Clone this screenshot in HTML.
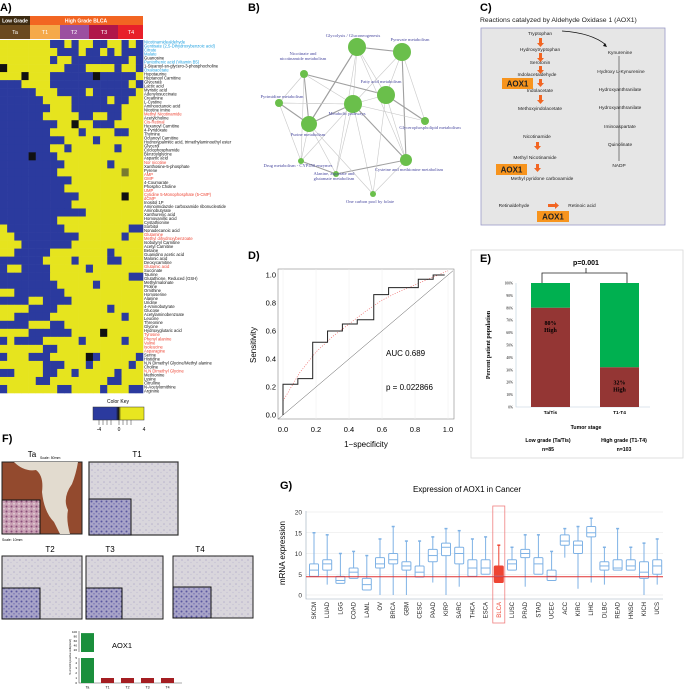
<!DOCTYPE html>
<html><head><meta charset="utf-8"><style>
html,body{margin:0;padding:0;background:#fff;width:685px;height:689px;overflow:hidden}
svg{display:block;font-family:"Liberation Sans",sans-serif}
.ser{font-family:"Liberation Serif",serif}
</style></head><body>
<svg id="fig" width="685" height="689" viewBox="0 0 685 689">
<text x="0" y="11" font-size="11" font-weight="bold">A)</text>
<text x="248" y="11" font-size="11" font-weight="bold">B)</text>
<text x="480" y="11" font-size="11" font-weight="bold">C)</text>
<text x="248" y="259" font-size="11" font-weight="bold">D)</text>
<text x="480" y="262" font-size="11" font-weight="bold">E)</text>
<text x="2" y="442" font-size="11" font-weight="bold">F)</text>
<text x="280" y="489" font-size="11" font-weight="bold">G)</text>

<g>
<rect x="0" y="16" width="30" height="9" fill="#3d2a10"/>
<text x="15" y="22.5" font-size="5" font-weight="bold" fill="#fff" text-anchor="middle">Low Grade</text>
<rect x="30" y="16" width="113" height="9" fill="#f26522"/>
<text x="86" y="22.5" font-size="5" font-weight="bold" fill="#fff" text-anchor="middle">High Grade BLCA</text>
<rect x="0" y="25" width="30" height="14" fill="#6b4a1f"/><text x="15" y="34" font-size="5.5" fill="#fff" text-anchor="middle">Ta</text>
<rect x="30" y="25" width="30" height="14" fill="#f5a94a"/><text x="45" y="34" font-size="5.5" fill="#fff" text-anchor="middle">T1</text>
<rect x="60" y="25" width="29" height="14" fill="#9b4fa0"/><text x="74" y="34" font-size="5.5" fill="#fff" text-anchor="middle">T2</text>
<rect x="89" y="25" width="29" height="14" fill="#b0164a"/><text x="104" y="34" font-size="5.5" fill="#fff" text-anchor="middle">T3</text>
<rect x="118" y="25" width="25" height="14" fill="#e8202a"/><text x="131" y="34" font-size="5.5" fill="#fff" text-anchor="middle">T4</text>
</g>
<g id="heat"></g>
<g id="heatlabels"></g>
<g>
<text x="118" y="403" font-size="5" text-anchor="middle">Color Key</text>
<defs><linearGradient id="ck" x1="0" x2="1"><stop offset="0" stop-color="#2b3a9e"/><stop offset="0.45" stop-color="#2b3a9e"/><stop offset="0.5" stop-color="#111"/><stop offset="0.55" stop-color="#e8e620"/><stop offset="1" stop-color="#e8e620"/></linearGradient></defs>
<rect x="93" y="407" width="51" height="13" fill="url(#ck)" stroke="#333" stroke-width="0.5"/>
<path d="M99 420v5M103 420v5M107 420v5M111 420v5M119 420v5M123 420v5M127 420v5M131 420v5" stroke="#333" stroke-width="0.5"/>
<text x="99" y="431" font-size="5" text-anchor="middle">-4</text><text x="119" y="431" font-size="5" text-anchor="middle">0</text><text x="144" y="431" font-size="5" text-anchor="middle">4</text>
</g>

<g id="net"></g>

<g font-size="4.8" fill="#222">
<text x="480" y="22" font-size="6.8">Reactions catalyzed by Aldehyde Oxidase 1 (AOX1)</text>
<rect x="481" y="28" width="184" height="197" fill="#e6e6e6" stroke="#9a9ac8" stroke-width="0.8"/>
<g text-anchor="middle">
<text x="540" y="35">Tryptophan</text><text x="540" y="51">Hydroxytryptophan</text><text x="540" y="64">Serotonin</text>
<text x="537" y="76">Indolacetaldehyde</text><text x="540" y="92">Indolacetate</text><text x="540" y="110">Methoxyindolacetate</text>
<text x="537" y="138">Nicotinamide</text><text x="535" y="159">Methyl Nicotinamide</text><text x="542" y="180">Methyl pyridone carboxamide</text>
<text x="514" y="207">Retinaldehyde</text><text x="582" y="207">Retinoic acid</text>
<text x="620" y="54">Kynurenine</text><text x="621" y="73">Hydroxy L-Kynurenine</text><text x="620" y="91">Hydroxyanthranilate</text>
<text x="620" y="109">Hydroxyanthranilate</text><text x="620" y="128">Iminoaspartate</text><text x="620" y="146">Quinolinate</text><text x="619" y="167">NADP</text>
</g>
<g fill="#f26522" stroke="none">
<path d="M539 38h3v5h2l-3.5 4-3.5-4h2z"/><path d="M539 53h3v5h2l-3.5 4-3.5-4h2z"/><path d="M539 66h3v4h2l-3.5 4-3.5-4h2z"/>
<path d="M539 79h3v4h2l-3.5 4-3.5-4h2z"/><path d="M539 95h3v5h2l-3.5 4-3.5-4h2z"/><path d="M536 142h3v4h2l-3.5 4-3.5-4h2z"/>
<path d="M536 164h3v4h2l-3.5 4-3.5-4h2z"/><path d="M548 204h7v-2l4 3.5-4 3.5v-2h-7z"/>
</g>
<rect x="502" y="78" width="31" height="11" fill="#f7941d"/><text x="517.5" y="86.5" font-size="8" font-weight="bold" text-anchor="middle">AOX1</text>
<rect x="496" y="164" width="31" height="11" fill="#f7941d"/><text x="511.5" y="172.5" font-size="8" font-weight="bold" text-anchor="middle">AOX1</text>
<rect x="537" y="211" width="32" height="11" fill="#f7941d"/><text x="553" y="219.5" font-size="8" font-weight="bold" text-anchor="middle">AOX1</text>
<path d="M562 31Q592 33 606 45" fill="none" stroke="#111" stroke-width="0.7"/><path d="M607 47l-4-1 2-3z" fill="#111"/>
<path d="M619 56V161" stroke="#111" stroke-width="0.5"/>
</g>

<g id="roc"></g>
<g id="stage"></g>

<g>
<defs>
<pattern id="tis" width="6" height="6" patternUnits="userSpaceOnUse"><rect width="6" height="6" fill="#d9d6dc"/><circle cx="2" cy="2" r="0.8" fill="#b8b3cc"/><circle cx="5" cy="4.5" r="0.6" fill="#c3bfd3"/></pattern>
<pattern id="tis2" width="5" height="5" patternUnits="userSpaceOnUse"><rect width="5" height="5" fill="#a8a4c8"/><circle cx="1.5" cy="1.5" r="1" fill="#5a57a0"/><circle cx="4" cy="3.8" r="0.8" fill="#7a76b5"/></pattern>
<pattern id="tis3" width="5" height="5" patternUnits="userSpaceOnUse"><rect width="5" height="5" fill="#c9a0b4"/><circle cx="1.5" cy="1.5" r="1" fill="#8a4f7a"/><circle cx="4" cy="3.8" r="0.8" fill="#e8dde0"/></pattern>
</defs>
<text x="32" y="457" font-size="8" text-anchor="middle">Ta</text><text x="40" y="459" font-size="3.5">Scale: 50mm</text>
<rect x="2" y="462" width="80" height="72" fill="#934a2e" stroke="#222" stroke-width="1"/>
<path d="M14 462q10 10 22 8q8 6 6 22q2 20 12 30q4 8 6 12h10q-4-14-2-24q-6-12 4-26q4-10 6-22z" fill="#e2dbcf"/>
<rect x="2" y="500" width="38" height="34" fill="url(#tis3)" stroke="#111" stroke-width="1"/>
<text x="2" y="541" font-size="3.5">Scale: 10mm</text>
<text x="137" y="457" font-size="8" text-anchor="middle">T1</text>
<rect x="89" y="462" width="89" height="73" fill="url(#tis)" stroke="#333" stroke-width="1.2"/>
<rect x="89" y="499" width="42" height="36" fill="url(#tis2)" stroke="#111" stroke-width="1"/>
<text x="50" y="552" font-size="8" text-anchor="middle">T2</text>
<rect x="2" y="556" width="80" height="63" fill="url(#tis)" stroke="#222" stroke-width="1"/>
<rect x="2" y="588" width="38" height="31" fill="url(#tis2)" stroke="#111" stroke-width="1"/>
<text x="110" y="552" font-size="8" text-anchor="middle">T3</text>
<rect x="86" y="556" width="77" height="63" fill="url(#tis)" stroke="#222" stroke-width="1"/>
<rect x="86" y="588" width="36" height="31" fill="url(#tis2)" stroke="#111" stroke-width="1"/>
<text x="200" y="552" font-size="8" text-anchor="middle">T4</text>
<rect x="173" y="556" width="80" height="62" fill="url(#tis)" stroke="#222" stroke-width="1"/>
<rect x="173" y="587" width="38" height="31" fill="url(#tis2)" stroke="#111" stroke-width="1"/>
</g>
<g id="fbar"></g>
<g id="box"></g>
</svg>
<script>
const NS='http://www.w3.org/2000/svg';
function mk(parent,tag,attrs,txt){const e=document.createElementNS(NS,tag);for(const k in attrs)e.setAttribute(k,attrs[k]);if(txt!==undefined)e.textContent=txt;parent.appendChild(e);return e;}

const heatRows=[
"yyyyyyybbybyybbyybyb","yyyyyyyybbbybbybybbb","yyyyyyybyybbbbbbbbyb","kyyyyyyyybbbyyyybyyb",
"yyykyyybbbbbbkbbbbby","bbbyyyybbbbbbbbbbbyb","bbbbbyyybbbbybbbbbby","bbbbbbyyyybbbbbybbyy",
"bbbbbbbyyybbbbbbbyyy","bbbbbbyyyyybbyybbyyy","bbbbbbbbyykyybbbyyyy","bbbbbbbyyyybyyyybbyy",
"bbbbbbbbbyyyybyyyyyy","bbbbbbbyybyyyyyybyyy","bbbbkbbbyyyyyyyyyyyy","bbbbbbbbbyyyyyybyyyy",
"bbbbbbbbyyyyyyyyyoyy","bbbbbbbbbbyyyyyyyyyy","bbbbbbbbbyyyyyyyyyyy","bbbbbbbbbbbyyyyyykyy",
"bbbbbbbbbbyyyyyyyyyy","bbbbbbbbbbbbyyyyyyyy","bbbbbbbbyyyyyyyyyyyy","ybbbbbbbbyyyyyyyyybb",
"yybbbbbbbbbyyyyyybyy","yyybbbbbbbyyyyyyyyyy","yybbbbbyyyyyyyybyyyy","bbbbbbyyyybyyyybbyyy",
"byybbbbyyyyybyyyyyyy","bbbbbbbyyyyyyyyyyybb","bbbbbbbbyyyyybyyyyyy","yybbbbbbbyyyyyyyyyyy",
"bbbbyybbbbyyyyyyyyyy","yyyybbbbyyyyyyybyyyy","yybbbbbyyyyyyyyyybyy","bbbbyyybbyyyyyyyyyyy",
"yyyybbbbbbyyyykyyyyy","bybbbbyyyyybyyyyybyy","yyyyyybbyyyyyyyyyyyy","byyybbbyyyyykbyyyyyb",
"yyyyyybbbyyybyyyyyby","bbyyyybbyybyyyyybyyy","yyyyybbyyyyyyyybbyyy","byyyyyyybbyyyybyyybb"];
const heatColors={y:'#e6e41e',b:'#2b3a9e',k:'#111111',o:'#7a7a30'};
const metaboliteLabels=["Nicotinamidealdehyde|b","Gentisate (2,5-Dihydroxybenzoic acid)|b","Citrate|b","Malate|b","Guanosine|k","Pantothenic acid (Vitamin B5)|b","1-Stearoyl-sn-glycero-3-phosphocholine|k","Oxaloacetate|b","Hypotaurine|k","Heptanoyl Carnitine|k","Glycerate|k","Lactic acid|k","Myristic acid|k","Adenylosuccinate|k","Creatinine|k","L-Cystine|k","Aminooctanoic acid|k","Nicotine imine|k","Methyl Nicotinamide|r","Acetylcholine|k","Cis-Retinal|r","Hexanoyl Carnitine|k","4-Pyridoxate|k","Thymine|k","Octanoyl Carnitine|k","Hydroxypalmitic acid, trimethylaminoethyl ester|k","Glycerol|k","Cyclophosphamide|k","Benzoylglycine|k","Aspartic acid|k","Nor nicotine|r","Xanthosine-5-phosphate|k","Pyrene|k","AMP|r","GMP|r","4-Coumarate|k","Phospho Choline|k","UMP|r","Cytidine 5-Monophosphate (5-CMP)|r","dCMP|r","Inositol 1P|k","Aminoimidazole carboxamide ribonucleotide|k","Aminobutyrate|k","Xanthurenic acid|k","Homovanillic acid|k","Cystathionine|k","Sorbitol|k","Nonadecanoic acid|k","Glutamine|r","Methyl dihydroxybenzoate|r","Isobutyryl Carnitine|k","Acetyl Carnitine|k","Betaine|k","Guanidino acetic acid|k","Malonic acid|k","Deoxycarnitine|k","Glutamic acid|r","Succinate|k","Taurine|k","Glutathione, Reduced (GSH)|k","Methylmalonate|k","Proline|k","Ornithine|k","Homoserine|k","Alanine|k","Uridine|k","4-Aminobutyrate|k","Glucose|k","Acetylaminobenzoate|k","Leucine|k","Threonine|k","Glycine|k","Hydroxyglutaric acid|k","Tyrosine|r","Phenyl alanine|r","Valine|r","Isoleucine|r","Asparagine|r","Serine|k","Histidine|k","N,N Dimethyl Glycine/Methyl alanine|k","Choline|k","N,N Dimethyl Glycine|r","Methionine|k","Lysine|k","Citrulline|k","N-Acetylornithine|k","Arginine|k"];
(function(){
 const g=document.getElementById('heat');const x0=0,w=143,y0=40,h=353;
 const nr=heatRows.length,nc=heatRows[0].length,cw=w/nc,rh=h/nr;
 heatRows.forEach((row,i)=>{[...row].forEach((c,j)=>{
  const r=mk(g,'rect',{x:x0+j*cw,y:y0+i*rh,width:cw+0.3,height:rh+0.3,fill:heatColors[c]});
  
  
 });});
 const lg=document.getElementById('heatlabels');const pitch=h/metaboliteLabels.length;
 const lc={b:'#1ea0e0',r:'#ee4433',k:'#111'};
 metaboliteLabels.forEach((s,i)=>{const [t,c]=s.split('|');
  const e=mk(lg,'text',{x:144,y:y0+pitch*(i+0.85),'font-size':4.2,fill:lc[c]},t);
  
  
 });
})();

const netNodes=[["Glycolysis / Gluconeogenesis",357,47,9,-4,-10],["Pyruvate metabolism",402,52,9,8,-11],["Nicotinate and\nnicotinamide metabolism",304,74,4,-1,-14],["Fatty acid metabolism",386,95,9,-5,-12],["Metabolic pathways",353,104,9,-6,11],["Pyrimidine metabolism",279,103,4,3,-5],["Purine metabolism",309,124,8,-1,12],["Glycerophospholipid metabolism",425,121,4,5,8],["Drug metabolism - CYP450 enzymes",301,161,3,-3,6],["Cysteine and methionine metabolism",406,160,6,3,11],["Alanine, aspartate and\nglutamate metabolism",336,174,3,-2,6],["One carbon pool by folate",373,194,3,-3,9]];
const netEdges=[[0,1],[0,3],[0,4],[0,6],[1,3],[1,4],[1,9],[2,4],[2,5],[2,6],[2,8],[3,4],[3,7],[3,9],[4,5],[4,6],[4,7],[4,8],[4,9],[4,10],[4,11],[5,6],[5,8],[6,8],[6,0],[6,10],[9,11],[9,10],[1,7],[0,10],[2,3],[6,11],[5,4],[8,10],[3,11],[0,9]];
(function(){
 const g=document.getElementById('net');
 netEdges.forEach(([a,b],i)=>{const A=netNodes[a],B=netNodes[b];
  const l=mk(g,'line',{x1:A[1],y1:A[2],x2:B[1],y2:B[2],stroke:i%3?'#c8c8c8':'#a0a0a0','stroke-width':i%3?0.6:1.1});
  
  
 });
 netNodes.forEach(n=>{
  const c=mk(g,'circle',{cx:n[1],cy:n[2],r:n[3],fill:'#6abf4b'});
  
  
  n[0].split('\n').forEach((line,k,arr)=>{
   const t=mk(g,'text',{x:n[1]+n[4],y:n[2]+n[5]+k*5-(arr.length-1)*5,'font-size':4.6,fill:'#4a4aa0','text-anchor':'middle','class':'ser'},line);
   
   
  });
 });
})();

const rocFpr=[0,0,0.09,0.09,0.18,0.18,0.27,0.27,0.36,0.36,0.45,0.45,0.55,0.55,0.64,0.64,0.82,0.82,0.91,0.91,0.98];
const rocTpr=[0,0.22,0.22,0.26,0.26,0.52,0.52,0.60,0.60,0.65,0.65,0.68,0.68,0.86,0.86,0.91,0.91,0.97,0.97,1.0,1.0];
const fitFpr=[0,0.1,0.2,0.3,0.4,0.5,0.6,0.7,0.8,0.9,1.0];
const fitTpr=[0.1,0.3,0.45,0.56,0.65,0.74,0.82,0.88,0.93,0.98,1.03];
const rocTicks=["0.0","0.2","0.4","0.6","0.8","1.0"];
(function(){
 const g=document.getElementById('roc');
 const X=v=>283+v*165,Y=v=>415-v*140;
 const f=mk(g,'rect',{x:278,y:269,width:176,height:150,fill:'#fff',stroke:'#888','stroke-width':0.6});
 
 
 rocTicks.forEach((t,i)=>{const v=i/5;
  const gx=mk(g,'line',{x1:X(v),x2:X(v),y1:269,y2:419,stroke:'#eee','stroke-width':0.5});
  
  
  const tx=mk(g,'text',{x:X(v),y:432,'font-size':7.5,'text-anchor':'middle'},t);
  
  
  const ty=mk(g,'text',{x:276,y:Y(v)+2.5,'font-size':7.5,'text-anchor':'end'},t);
  
  
 });
 const d=mk(g,'line',{x1:X(-0.03),y1:Y(-0.03),x2:X(1.03),y2:Y(1.03),stroke:'#555','stroke-width':0.5});
 
 
 const fit=mk(g,'polyline',{points:fitFpr.map((v,i)=>X(v)+','+Y(fitTpr[i])).join(' '),fill:'none',stroke:'#ee6666','stroke-width':0.7,'stroke-dasharray':'1,1.5'});
 
 
 const c=mk(g,'polyline',{points:rocFpr.map((v,i)=>X(v)+','+Y(rocTpr[i])).join(' '),fill:'none',stroke:'#222','stroke-width':1});
 
 
 const a=mk(g,'text',{x:386,y:356,'font-size':8},'AUC 0.689');
 
 
 const p=mk(g,'text',{x:386,y:390,'font-size':8},'p = 0.022866');
 
 
 const xt=mk(g,'text',{x:366,y:447,'font-size':8,'text-anchor':'middle'},'1\u2212specificity');
 
 
 const yt=mk(g,'text',{x:0,y:0,'font-size':8,'text-anchor':'middle',transform:'translate(256,345) rotate(-90)'},'Sensitivity');
 
 
})();

const stageCats=["Ta/Tis","T1-T4"];
const stageHigh=[80,32];
const stageTicks=["0%","10%","20%","30%","40%","50%","60%","70%","80%","90%","100%"];
(function(){
 const g=document.getElementById('stage');
 const fr=mk(g,'rect',{x:471,y:250,width:212,height:208,fill:'none',stroke:'#d8d8d8','stroke-width':0.8});
 
 
 const Y=v=>407-v*1.24;
 stageTicks.forEach((t,i)=>{const e=mk(g,'text',{x:513,y:Y(i*10)+1.5,'font-size':3.6,'text-anchor':'end','class':'ser'},t);
  
  });
 const ax=mk(g,'path',{d:'M516 283V407H650',fill:'none',stroke:'#bcd','stroke-width':0.6});
 
 
 const xs=[531,600];
 stageCats.forEach((c,i)=>{
  const gr=mk(g,'rect',{x:xs[i],y:Y(100),width:39,height:Y(stageHigh[i])-Y(100),fill:'#00b050'});
  
  
  const rd=mk(g,'rect',{x:xs[i],y:Y(stageHigh[i]),width:39,height:Y(0)-Y(stageHigh[i]),fill:'#943634'});
  
  
  const t1=mk(g,'text',{x:xs[i]+19.5,y:Y(stageHigh[i])+17,'font-size':6,'font-weight':'bold','text-anchor':'middle','class':'ser'},stageHigh[i]+'%');
  
  
  const t2=mk(g,'text',{x:xs[i]+19.5,y:Y(stageHigh[i])+24,'font-size':6,'font-weight':'bold','text-anchor':'middle','class':'ser'},'High');
  
  
  const cl=mk(g,'text',{x:xs[i]+19.5,y:414,'font-size':4.8,'font-weight':'bold','text-anchor':'middle'},c);
  
  
 });
 const br=mk(g,'path',{d:'M542 283V273H627V283M586 273V268',fill:'none',stroke:'#222','stroke-width':0.8});
 
 
 const pv=mk(g,'text',{x:586,y:265,'font-size':7,'font-weight':'bold','text-anchor':'middle'},'p=0.001');
 
 
 const yt=mk(g,'text',{x:0,y:0,'font-size':6,'font-weight':'bold','text-anchor':'middle','class':'ser',transform:'translate(490,345) rotate(-90)'},'Percent patient population');
 
 
 const lines=[["Tumor stage",586,429],["Low grade (Ta/Tis)",548,442],["n=85",548,451],["High grade (T1-T4)",624,442],["n=103",624,451]];
 lines.forEach(l=>{const e=mk(g,'text',{x:l[1],y:l[2],'font-size':5.2,'font-weight':'bold','text-anchor':'middle'},l[0]);
  
  });
})();

const fCats=["Ta","T1","T2","T3","T4"];
const fVals=[95,1,1,1,1];
(function(){
 const g=document.getElementById('fbar');
 const Y=v=>v<=5?683-v*5:652-(v-10)/90*20;
 const ax=mk(g,'path',{d:'M79 631V652M79 658V683H182',fill:'none',stroke:'#555','stroke-width':0.6});
 
 
 ["0","1","2","3","4","5"].forEach((t,i)=>{const e=mk(g,'text',{x:77,y:Y(i)+1,'font-size':3,'text-anchor':'end'},t);
  
  });
 ["20","40","60","80","100"].forEach(t=>{const e=mk(g,'text',{x:77,y:Y(+t)+1,'font-size':3,'text-anchor':'end'},t);
  
  });
 fCats.forEach((c,i)=>{const x=81+i*20;const v=fVals[i];
  if(v>5){
   const b1=mk(g,'rect',{x:x,y:Y(5),width:13,height:Y(0)-Y(5),fill:'#1a8f3c'});
   
   
   const b2=mk(g,'rect',{x:x,y:Y(v),width:13,height:Y(10)-Y(v),fill:'#1a8f3c'});
   
   
  } else {
   const b=mk(g,'rect',{x:x,y:Y(v),width:13,height:Y(0)-Y(v),fill:'#a41e22'});
   
   
  }
  const t=mk(g,'text',{x:x+6.5,y:688.5,'font-size':3.5,'text-anchor':'middle'},c);
  
  
 });
 const lab=mk(g,'text',{x:112,y:648,'font-size':7.5},'AOX1');
 
 
 const yt=mk(g,'text',{x:0,y:0,'font-size':2.6,'text-anchor':'middle',transform:'translate(71,657) rotate(-90)'},'% of AOX1 positive cells(mm2)');
 
 
})();

const cancers=["SKCM","LUAD","LGG","COAD","LAML","OV","BRCA","GBM","CESC","PAAD","KIRP","SARC","THCA","ESCA","BLCA","LUSC","PRAD","STAD","UCEC","ACC","KIRC","LIHC","DLBC","READ","HNSC","KICH","UCS"];
const medians=[6,7.5,3.5,5.5,2.5,7.5,8.5,7,5.5,9.5,11.5,10,6.5,6.5,4.5,7.5,10,7.5,4.5,13,12,15,7,6.5,7,5.5,7];
const q1s=[4.5,6,2.8,4,1.2,6.5,7.5,6,4.3,8,9.5,7.5,4.5,5,3,6,9,5,3.5,12,10,14,6,6,6,4,5];
const q3s=[7.5,8.5,4.5,6.5,4,9,10,8,7,11,12.5,11.5,8.5,8.5,7,8.5,11,9,6,14.5,13,16.5,8,8.5,8.5,8,8.5];
const mins=[4.5,2.5,2.8,4,1.2,0,0,0,4.3,3,0,2,4.5,5,3,6,2,5,3.5,9,1.5,3,2.5,6,6,0,2.5];
const maxs=[15,14.5,10,10.5,9.5,13.5,16.5,13,13,14,16,15.5,13.5,14,12,11.5,14.5,14.5,10.5,16,16.5,18.5,11.5,16,11.5,12.5,13.5];
const highlight="BLCA";
const refLine=4.4;
const gTicks=[0,5,10,15,20];
(function(){
 const g=document.getElementById('box');
 const Y=v=>595-v*4.15,X=i=>314+i*13.2;
 const t=mk(g,'text',{x:467,y:492,'font-size':8,'text-anchor':'middle'},'Expression of AOX1 in Cancer');
 
 
 gTicks.forEach(v=>{
  const gl=mk(g,'line',{x1:306,x2:663,y1:Y(v),y2:Y(v),stroke:'#e4e4e4','stroke-width':0.6});
  
  
  const tk=mk(g,'text',{x:302,y:Y(v)+2.5,'font-size':6.5,'text-anchor':'end',fill:'#333'},v);
  
  
 });
 const ax=mk(g,'path',{d:'M306 511V599H663',fill:'none',stroke:'#9ab','stroke-width':0.6});
 
 
 const yt=mk(g,'text',{x:0,y:0,'font-size':8,'text-anchor':'middle',transform:'translate(285,553) rotate(-90)'},'mRNA expression');
 
 
 cancers.forEach((c,i)=>{const x=X(i),hl=c===highlight;const col=hl?'#ee4433':'#7fb2e5';
  const w=mk(g,'line',{x1:x,x2:x,y1:Y(mins[i]),y2:Y(maxs[i]),stroke:col,'stroke-width':1});
  
  
  const cap=mk(g,'line',{x1:x-1.5,x2:x+1.5,y1:Y(maxs[i]),y2:Y(maxs[i]),stroke:col,'stroke-width':1.5});
  
  
  const b=mk(g,'rect',{x:x-4.5,y:Y(q3s[i]),width:9,height:Y(q1s[i])-Y(q3s[i]),fill:hl?'#ee4433':'#fff',stroke:col,'stroke-width':1,rx:1});
  
  
  const m=mk(g,'line',{x1:x-4.5,x2:x+4.5,y1:Y(medians[i]),y2:Y(medians[i]),stroke:'#7fb2e5','stroke-width':1});
  
  
  const lb=mk(g,'text',{x:0,y:0,'font-size':6,'text-anchor':'end',fill:hl?'#ee4433':'#222',transform:`translate(${x+2},602) rotate(-90)`},c);
  
  
  if(hl){const hb=mk(g,'rect',{x:x-6,y:506,width:12,height:117,fill:'none',stroke:'#f08080','stroke-width':0.8});
   
   }
 });
 const rl=mk(g,'line',{x1:306,x2:663,y1:Y(refLine),y2:Y(refLine),stroke:'#e03030','stroke-width':1});
 
 
})();
</script>
</body></html>
